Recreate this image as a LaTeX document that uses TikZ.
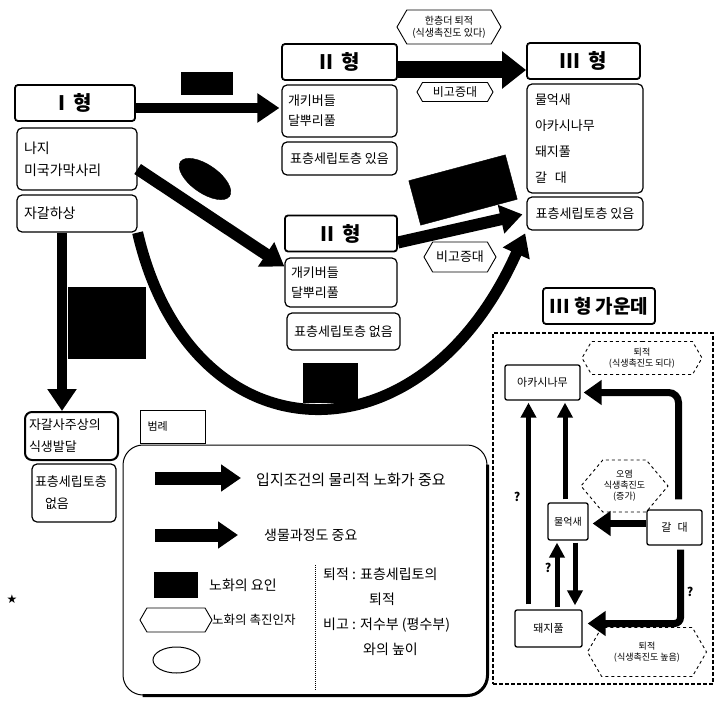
\documentclass[tikz,border=0pt]{standalone}
\usepackage{fontspec}
\setmainfont{Noto Sans CJK KR}
\newfontfamily\symfont{DejaVu Sans}
\usetikzlibrary{arrows.meta,positioning,shapes.geometric,shapes.symbols}

\begin{document}
\begin{tikzpicture}[x=1pt,y=-1pt,
  hd/.style={draw,line width=1.8pt,rounded corners=3pt,minimum height=36pt,inner sep=2pt,font=\fontsize{20}{22}\selectfont\bfseries},
  bx/.style={draw,line width=1.2pt,rounded corners=5pt,align=left,inner ysep=0pt,font=\fontsize{13}{20}\selectfont},
  sb/.style={draw,line width=1.3pt,rounded corners=2pt,inner sep=2pt,font=\fontsize{11}{13}\selectfont},
  blk/.style={fill=black,draw=black,inner sep=0pt},
  hexa/.style={signal,signal to=east and west,signal pointer angle=120,draw,line width=0.9pt,align=center,inner sep=1pt,font=\fontsize{10}{12}\selectfont},
  lt/.style={inner sep=0pt,align=left,font=\fontsize{14}{25}\selectfont},
  fat/.style={line width=10pt,-{Triangle[length=22pt,width=28pt]}},
  mid/.style={line width=7pt,-{Triangle[length=18pt,width=24pt]}},
  thn/.style={line width=5pt,-{Triangle[length=15pt,width=15pt]}},
  q/.style={inner sep=0pt,font=\fontsize{12}{12}\selectfont\bfseries}]
  \useasboundingbox (0,0) rectangle (718,709);
  % Type I
  \node[hd,minimum width=120pt] (Ihead) at (75,103) {I\hspace{8pt}형};
  \node[bx,text width=106pt,inner xsep=7pt,minimum height=62pt,font=\fontsize{14}{22}\selectfont] (Ibody) at (77,159) {나지\\미국가막사리};
  \node[bx,text width=106pt,inner xsep=7pt,minimum height=37pt,font=\fontsize{14}{22}\selectfont] (Igravel) at (77,213.5) {자갈하상};
  % Type II, upper
  \node[hd,minimum width=115pt] (IIuhead) at (339.5,62) {II\hspace{8pt}형};
  \node[bx,text width=103pt,inner xsep=6pt,minimum height=52pt] (IIubody) at (339.5,111) {개키버들\\달뿌리풀};
  \node[bx,minimum width=115pt,minimum height=33pt] (IIusoil) at (339.5,158.5) {표층세립토층 있음};
  % Type III
  \node[hd,minimum width=113pt] (IIIhead) at (583.5,61) {III\hspace{8pt}형};
  \node[bx,text width=100pt,inner xsep=8pt,minimum height=109pt,font=\fontsize{13}{26}\selectfont] (IIIbody) at (585,138.5) {물억새\\아카시나무\\돼지풀\\갈\hspace{8pt}대};
  \node[bx,minimum width=116pt,minimum height=33pt] (IIIsoil) at (585,213.5) {표층세립토층 있음};
  % Type II, lower
  \node[hd,minimum width=112pt] (IIlhead) at (341,233.5) {II\hspace{8pt}형};
  \node[bx,text width=100pt,inner xsep=6pt,minimum height=49pt] (IIlbody) at (341,282.5) {개키버들\\달뿌리풀};
  \node[bx,minimum width=113pt,minimum height=37pt] (IIlsoil) at (343.5,331.5) {표층세립토층 없음};
  % gravel bar
  \node[bx,line width=2pt,rounded corners=7pt,text width=85pt,inner xsep=4pt,minimum height=48pt,font=\fontsize{13}{22}\selectfont] (Ibar) at (71.5,436) {자갈사주상의\\식생발달};
  \node[bx,text width=78pt,inner xsep=3pt,minimum height=58pt,font=\fontsize{13}{22}\selectfont] (Isoil) at (74,493) {표층세립토층\\\hspace{10pt}없음};
  % factors
  \node[blk,minimum width=51pt,minimum height=22pt] (k1) at (206.5,83) {};
  \node[blk,ellipse,rotate=-35,minimum width=60pt,minimum height=28pt] (e1) at (205,179) {};
  \node[blk,rotate=15,minimum width=100pt,minimum height=46pt] (k4) at (463,190) {};
  \node[blk,minimum width=77pt,minimum height=71pt] (k2) at (106.5,322.5) {};
  \node[blk,minimum width=54pt,minimum height=39pt] (k3) at (330,383) {};
  \node[hexa,minimum width=104pt,minimum height=34pt] (h1) at (449,27) {한층더 퇴적\\(식생촉진도 있다)};
  \node[hexa,minimum width=76pt,minimum height=19pt,font=\fontsize{12}{12}\selectfont] (h2) at (455,92) {비고증대};
  \node[hexa,minimum width=72pt,minimum height=30pt,font=\fontsize{13}{13}\selectfont] (h3) at (460,257) {비고증대};
  % succession arrows
  \draw[fat,shorten >=2pt] ([yshift=-5pt]Ihead.east) -- ([yshift=-5pt]Ihead.east -| IIubody.west);
  \draw[fat,line width=17pt,-{Triangle[length=24pt,width=36pt]}] ([yshift=-8pt]IIuhead.east) -- ([yshift=-8pt]IIuhead.east -| IIIhead.west);
  \draw[fat,line width=12pt] ([yshift=-10pt]Ibody.east) -- ([yshift=16pt]IIlbody.west);
  \draw[fat,line width=12pt,shorten >=4pt] ([yshift=-9pt]IIlhead.east) -- (IIIsoil.west);
  \draw[fat,line width=11pt,shorten >=3pt] (Igravel.south east) .. controls (190,460) and (420,470) .. (IIIsoil.south west);
  \draw[fat] ([xshift=-15pt]Igravel.south) -- ([xshift=-15pt]Igravel.south |- Ibar.north);
  % middle of type III
  \node[hd,minimum width=112pt,font=\fontsize{19}{20}\selectfont\bfseries] (IIImid) at (599,306) {III 형 가운데};
  \node[draw,line width=1.8pt,dash pattern=on 4pt off 2pt,minimum width=220pt,minimum height=351pt] (zone) at (603,508.5) {};
  \node[sb,minimum width=75pt,minimum height=35pt] (akasia) at (542.5,382.5) {아카시나무};
  \node[sb,minimum width=40pt,minimum height=37pt,font=\fontsize{10}{11}\selectfont] (mulek) at (568,521.5) {물억새};
  \node[sb,minimum width=55pt,minimum height=35pt] (galdae) at (674.5,527.5) {갈\hspace{6pt}대};
  \node[sb,minimum width=67pt,minimum height=37pt] (dwaeji) at (548.5,628.5) {돼지풀};
  \node[hexa,dashed,minimum width=120pt,minimum height=33pt,font=\fontsize{9}{11}\selectfont] (hx1) at (642,358) {퇴적\\(식생촉진도 되다)};
  \node[hexa,dashed,signal pointer angle=100,minimum width=75pt,minimum height=52pt,font=\fontsize{9}{11}\selectfont] (hx2) at (624.5,486) {오염\\식생촉진도\\(증가)};
  \node[hexa,dashed,minimum width=119pt,minimum height=49pt,font=\fontsize{9}{11}\selectfont] (hx3) at (647,652) {퇴적\\(식생촉진도 높음)};
  \draw[mid,rounded corners=10pt,shorten >=3pt] ([xshift=4pt,yshift=10pt]galdae.north) |- ([yshift=-10pt]akasia.east);
  \draw[mid,rounded corners=6pt,shorten >=5pt] ([xshift=6pt,yshift=-4pt]galdae.south) |- ([yshift=5pt]dwaeji.east);
  \draw[mid,shorten >=4pt] ([yshift=4pt]galdae.west) -- ([yshift=4pt]galdae.west -| mulek.east);
  \draw[thn,shorten <=3pt,shorten >=2pt] ([xshift=-3pt]mulek.north) -- ([xshift=-3pt]mulek.north |- akasia.south);
  \draw[thn,shorten <=5pt,shorten >=2pt] ([xshift=-20pt]dwaeji.north) -- ([xshift=-20pt]dwaeji.north |- akasia.south);
  \draw[thn,shorten <=2pt,shorten >=2pt] ([xshift=-11pt]mulek.south |- dwaeji.north) -- ([xshift=-11pt]mulek.south);
  \draw[thn,shorten <=2pt,shorten >=4pt] ([xshift=7pt]mulek.south) -- ([xshift=7pt]mulek.south |- dwaeji.north);
  \node[q] (q1) at (517,497) {?};
  \node[q] (q2) at (548,568) {?};
  \node[q] (q3) at (690,592) {?};
  % legend
  \node[draw,line width=0.8pt,minimum width=65pt,minimum height=33pt,text width=50pt,align=left,inner xsep=7pt,font=\fontsize{11}{12}\selectfont] (lgtag) at (172.5,426.5) {범례};
  \node[draw,line width=1pt,rounded corners=20pt,minimum width=364pt,minimum height=250pt] (legend) at (305,570) {};
  \draw[line width=3pt,rounded corners=20pt] ([yshift=-20pt]legend.north east) -- (legend.south east) -- ([xshift=20pt]legend.south west);
  \coordinate (la1) at (155,478);
  \coordinate (lb1) at (241,478);
  \coordinate (la2) at (155,535);
  \coordinate (lb2) at (238,535);
  \draw[fat,line width=13pt,-{Triangle[length=20pt,width=26pt]}] (la1) -- (lb1);
  \draw[fat,line width=13pt,-{Triangle[length=20pt,width=26pt]}] (la2) -- (lb2);
  \node[lt,anchor=west,font=\fontsize{15}{16}\selectfont] (lt1) at (256,480) {입지조건의 물리적 노화가 중요};
  \node[lt,anchor=west] (lt2) at (264,535) {생물과정도 중요};
  \node[blk,minimum width=43pt,minimum height=25pt] (lk) at (176,585) {};
  \node[lt,anchor=west] (lt3) at (209,585) {노화의 요인};
  \node[hexa,minimum width=72pt,minimum height=24pt] (lh) at (176,620) {};
  \node[lt,anchor=west,font=\fontsize{12.5}{13}\selectfont] (lt4) at (212,620) {노화의 촉진인자};
  \node[draw,ellipse,line width=1pt,minimum width=47pt,minimum height=26pt] (le) at (176.5,660) {};
  \coordinate (ld1) at (315,565);
  \coordinate (ld2) at (315,690);
  \draw[densely dotted,line width=1pt] (ld1) -- (ld2);
  \node[lt,anchor=north west] (lt5) at (323,568) {퇴적 : 표층세립토의\\\hspace{46pt}퇴적\\비고 : 저수부 (평수부)\\\hspace{40pt}와의 높이};
  \node[font=\symfont\fontsize{12}{12}\selectfont] (star) at (12,599) {★};
\end{tikzpicture}
\end{document}
